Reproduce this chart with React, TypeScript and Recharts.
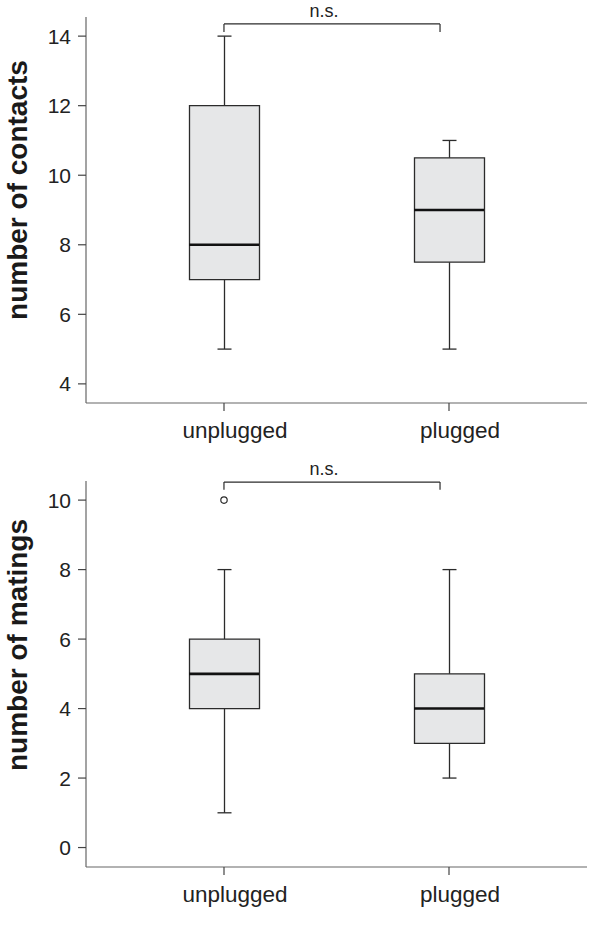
import React from 'react'
import { ComposedChart, Bar, Scatter, XAxis, YAxis, ReferenceLine } from 'recharts'

const categories = ['unplugged', 'plugged']
const categoryPos = [1, 2]

const contactsMin = [5, 5]
const contactsQ1 = [7, 7.5]
const contactsMedian = [8, 9]
const contactsQ3 = [12, 10.5]
const contactsMax = [14, 11]
const contactsOutlier: (number | null)[] = [null, null]
const contactsTicks = [4, 6, 8, 10, 12, 14]
const contactsDomain = [3.45, 14.55]
const contactsBracket = { x1: 1, x2: 1.96, y: 14.35, yEnd: 14.12 }

const matingsMin = [1, 2]
const matingsQ1 = [4, 3]
const matingsMedian = [5, 4]
const matingsQ3 = [6, 5]
const matingsMax = [8, 8]
const matingsOutlier: (number | null)[] = [10, null]
const matingsTicks = [0, 2, 4, 6, 8, 10]
const matingsDomain = [-0.56, 10.55]
const matingsBracket = { x1: 1, x2: 1.96, y: 10.52, yEnd: 10.3 }

const FONT = '"Liberation Sans", Arial, sans-serif'
const INK = '#2b2b2b'

function buildRows(mn: number[], q1: number[], med: number[], q3: number[], mx: number[], out: (number | null)[]) {
  return categories.map((name, i) => ({
    name,
    pos: categoryPos[i],
    whisker: [mn[i], mx[i]],
    box: [q1[i], q3[i]],
    median: med[i],
    outlier: out[i],
  }))
}

const Whisker = (p: any) => {
  const { x, y, width, height } = p
  const cx = x + width / 2
  return (
    <g stroke={INK} strokeWidth={1.3}>
      <line x1={cx} x2={cx} y1={y} y2={y + height} />
      <line x1={x} x2={x + width} y1={y} y2={y} />
      <line x1={x} x2={x + width} y1={y + height} y2={y + height} />
    </g>
  )
}

const MedianLine = (p: any) => (
  <line x1={p.cx - 35} x2={p.cx + 35} y1={p.cy} y2={p.cy} stroke="#111" strokeWidth={2.6} />
)

const OutlierDot = (p: any) => {
  if (p.payload == null || p.payload.outlier == null) return null
  return <circle cx={p.cx} cy={p.cy} r={3.2} fill="#fff" stroke={INK} strokeWidth={1.2} />
}

const axisTitle = (text: string, shift: number) => (props: any) => {
  const vb = props.viewBox
  const cx = vb.x + 9
  const cy = vb.y + vb.height / 2 + shift
  return (
    <text
      x={cx}
      y={cy}
      dy="0.36em"
      transform={`rotate(-90 ${cx} ${cy})`}
      textAnchor="middle"
      fontSize={28}
      fontWeight="bold"
      fill="#1a1a1a"
      fontFamily={FONT}
    >
      {text}
    </text>
  )
}

function BoxPanel({ rows, ticks, domain, bracket, title, titleShift, height, margin }: any) {
  const pad = { left: 25.5, right: 25.5 }
  return (
    <ComposedChart width={600} height={height} data={rows} margin={margin} style={{ fontFamily: FONT }}>
      <XAxis
        xAxisId="a"
        dataKey="name"
        padding={pad}
        height={50}
        tickSize={8}
        tickMargin={11}
        tick={{ fontSize: 22.5, fill: '#222', fontFamily: FONT, dx: 11 }}
        axisLine={{ stroke: '#666', strokeWidth: 1.2 }}
        tickLine={{ stroke: '#444', strokeWidth: 1.2 }}
      />
      <XAxis xAxisId="w" dataKey="name" padding={pad} hide />
      <XAxis xAxisId="n" dataKey="pos" type="number" domain={[0.387, 2.613]} allowDataOverflow hide />
      <YAxis
        width={78}
        domain={domain}
        ticks={ticks}
        allowDataOverflow
        interval={0}
        tickSize={8}
        tickMargin={7}
        tick={{ fontSize: 21, fill: '#222', fontFamily: FONT }}
        axisLine={{ stroke: '#666', strokeWidth: 1.2 }}
        tickLine={{ stroke: '#444', strokeWidth: 1.2 }}
        label={axisTitle(title, titleShift)}
      />
      <Bar xAxisId="w" dataKey="whisker" barSize={14} shape={Whisker} isAnimationActive={false} />
      <Bar
        xAxisId="a"
        dataKey="box"
        barSize={70}
        fill="#e6e7e8"
        stroke={INK}
        strokeWidth={1.3}
        isAnimationActive={false}
      />
      <Scatter xAxisId="a" dataKey="median" shape={MedianLine} isAnimationActive={false} />
      <Scatter xAxisId="a" dataKey="outlier" shape={OutlierDot} isAnimationActive={false} />
      <ReferenceLine
        xAxisId="n"
        segment={[{ x: bracket.x1, y: bracket.y }, { x: bracket.x2, y: bracket.y }]}
        stroke={INK}
        strokeWidth={1.2}
        ifOverflow="visible"
        label={{ value: 'n.s.', position: 'top', offset: 7, fontSize: 18, fill: '#222', fontFamily: FONT, dx: -8 }}
      />
      <ReferenceLine
        xAxisId="n"
        segment={[{ x: bracket.x1, y: bracket.y }, { x: bracket.x1, y: bracket.yEnd }]}
        stroke={INK}
        strokeWidth={1.2}
        ifOverflow="visible"
      />
      <ReferenceLine
        xAxisId="n"
        segment={[{ x: bracket.x2, y: bracket.y }, { x: bracket.x2, y: bracket.yEnd }]}
        stroke={INK}
        strokeWidth={1.2}
        ifOverflow="visible"
      />
    </ComposedChart>
  )
}

export default function App() {
  const contacts = buildRows(contactsMin, contactsQ1, contactsMedian, contactsQ3, contactsMax, contactsOutlier)
  const matings = buildRows(matingsMin, matingsQ1, matingsMedian, matingsQ3, matingsMax, matingsOutlier)
  return (
    <div style={{ position: 'absolute', left: 0, top: 0, width: 600, height: 937, background: '#fff' }}>
      <BoxPanel
        rows={contacts}
        ticks={contactsTicks}
        domain={contactsDomain}
        bracket={contactsBracket}
        title="number of contacts"
        titleShift={-20}
        height={460}
        margin={{ top: 17, right: 13, bottom: 7, left: 8 }}
      />
      <BoxPanel
        rows={matings}
        ticks={matingsTicks}
        domain={matingsDomain}
        bracket={matingsBracket}
        title="number of matings"
        titleShift={-29}
        height={477}
        margin={{ top: 21, right: 13, bottom: 20, left: 8 }}
      />
    </div>
  )
}
